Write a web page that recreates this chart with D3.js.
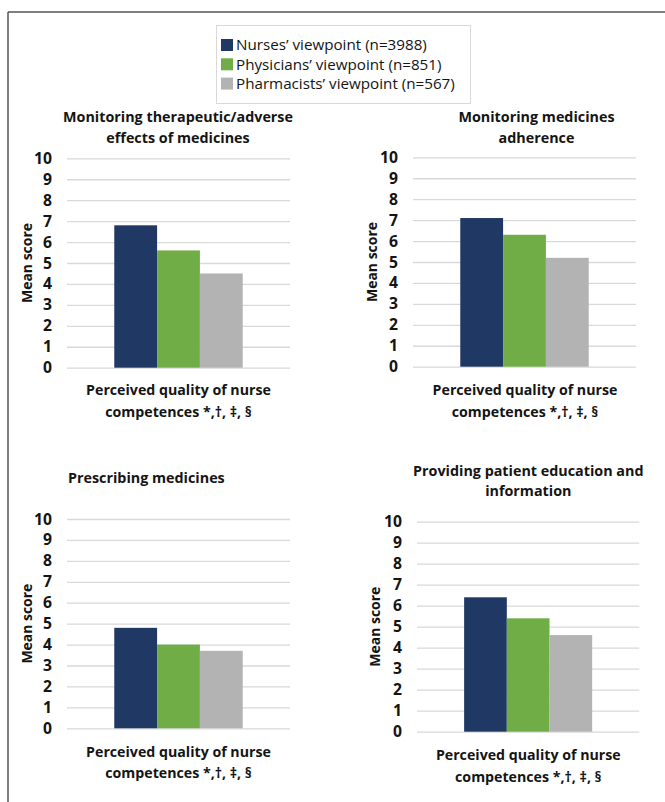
<!DOCTYPE html>
<html>
<head>
<meta charset="utf-8">
<script src="https://cdn.jsdelivr.net/npm/d3@7"></script>
<style>
  body { margin: 0; background: #fff; }
  text { font-family: "Open Sans", Lato, sans-serif; fill: #141414; }
</style>
</head>
<body>
<div id="chart"></div>
<script>
// data
const groups = ["Nurses’ viewpoint (n=3988)", "Physicians’ viewpoint (n=851)", "Pharmacists’ viewpoint (n=567)"]
const titles = [
  ["Monitoring therapeutic/adverse", "effects of medicines"],
  ["Monitoring medicines", "adherence"],
  ["Prescribing medicines"],
  ["Providing patient education and", "information"]
]
const nurses = [6.8, 7.1, 4.8, 6.4]
const physicians = [5.6, 6.3, 4.0, 5.4]
const pharmacists = [4.5, 5.2, 3.7, 4.6]
const yTicks = [0, 1, 2, 3, 4, 5, 6, 7, 8, 9, 10]
const xLabel = ["Perceived quality of nurse", "competences *,†, ‡, §"]
const yLabel = "Mean score"

const colors = ["#203864", "#70ad47", "#b3b3b3"]

// panel layout (pixels)
const layout = [
  { x0: 67,  x1: 290,   yTop: 158.3, yBot: 367.7, tx: 178,   ty: 117,   anchor: "middle", mx: 27,  lx: 178.5, ly: 390 },
  { x0: 413, x1: 636,   yTop: 157.3, yBot: 366.7, tx: 536.5, ty: 117,   anchor: "middle", mx: 372.5, lx: 525, ly: 390 },
  { x0: 67,  x1: 290,   yTop: 519,   yBot: 728.3, tx: 68,    ty: 478.3, anchor: "start",  mx: 27,  lx: 178.5, ly: 751.7 },
  { x0: 417, x1: 639.3, yTop: 521.7, yBot: 731.7, tx: 528.3, ty: 470.7, anchor: "middle", mx: 375, lx: 528.3, ly: 755 }
]

const W = 665, H = 802

const svg = d3.select("#chart")
  .append("svg")
    .attr("width", W)
    .attr("height", H)

// pick a font size so that a sample string gets the width it has in the figure
function fitSize(sample, weight, target) {
  const t = svg.append("text").style("font-size", "100px").style("font-weight", weight).text(sample)
  const w = t.node().getComputedTextLength()
  t.remove()
  return (100 * target / w) + "px"
}
const titleSize = fitSize(titles[0][0], "bold", 230)
const xLabSize = fitSize(xLabel[0], "bold", 185)
const yLabSize = fitSize(yLabel, "bold", 80)
const tickSize = fitSize("10", "bold", 18)
const legendSize = fitSize(groups[0], "normal", 191)

// outer frame (only top and left visible)
svg.append("line").attr("x1", 8).attr("y1", 12).attr("x2", W).attr("y2", 12)
  .attr("stroke", "#555").attr("stroke-width", 1.5)
svg.append("line").attr("x1", 8).attr("y1", 12).attr("x2", 8).attr("y2", H)
  .attr("stroke", "#555").attr("stroke-width", 1.5)

// legend
const legend = svg.append("g")
legend.append("rect")
  .attr("x", 216.5).attr("y", 25.5).attr("width", 254).attr("height", 78)
  .attr("fill", "#fff").attr("stroke", "#d9d9d9")
groups.forEach((g, i) => {
  const cy = 45 + i * 19.3
  legend.append("rect")
    .attr("x", 221).attr("y", cy - 6).attr("width", 12).attr("height", 12)
    .attr("fill", colors[i])
  legend.append("text")
    .attr("x", 236).attr("y", cy)
    .attr("dy", "0.35em")
    .style("font-size", legendSize)
    .text(g)
})

titles.forEach((title, p) => {
  const L = layout[p]
  const values = [nurses[p], physicians[p], pharmacists[p]]

  const y = d3.scaleLinear().domain([0, 10]).range([L.yBot, L.yTop])
  const x0 = d3.scaleBand().domain(["q"]).range([L.x0, L.x1]).paddingInner(0).paddingOuter(0.368)
  const x1 = d3.scaleBand().domain(groups).range([0, x0.bandwidth()]).padding(0)

  const g = svg.append("g")

  // y axis with gridlines
  const axis = g.append("g")
    .attr("transform", `translate(${L.x0},0)`)
    .call(d3.axisLeft(y)
      .tickValues(yTicks)
      .tickSize(-(L.x1 - L.x0))
      .tickPadding(15)
      .tickFormat(d3.format("d")))
  axis.select(".domain").remove()
  axis.selectAll(".tick line").attr("stroke", "#d9d9d9").attr("stroke-width", 1.3)
  axis.selectAll(".tick text")
    .style("font-size", tickSize)
    .style("font-weight", "bold")
    .style("font-family", "'Open Sans', sans-serif")
    .attr("fill", "#141414")

  // bars
  g.append("g")
    .attr("transform", `translate(${x0("q")},0)`)
    .selectAll("rect")
    .data(values)
    .join("rect")
      .attr("x", (d, i) => x1(groups[i]))
      .attr("y", d => y(d))
      .attr("width", x1.bandwidth())
      .attr("height", d => y(0) - y(d))
      .attr("fill", (d, i) => colors[i])

  // title
  g.append("g").selectAll("text")
    .data(title)
    .join("text")
      .attr("x", L.tx)
      .attr("y", (d, i) => L.ty + i * 20.5)
      .attr("dy", "0.35em")
      .attr("text-anchor", L.anchor)
      .style("font-size", titleSize)
      .style("font-weight", "bold")
      .text(d => d)

  // y label
  g.append("text")
    .attr("transform", `translate(${L.mx},${(L.yTop + L.yBot) / 2}) rotate(-90)`)
    .attr("dy", "0.35em")
    .attr("text-anchor", "middle")
    .style("font-size", yLabSize)
    .style("font-weight", "bold")
    .text(yLabel)

  // x label
  g.append("g").selectAll("text")
    .data(xLabel)
    .join("text")
      .attr("x", L.lx)
      .attr("y", (d, i) => L.ly + i * 21.7)
      .attr("dy", "0.35em")
      .attr("text-anchor", "middle")
      .style("font-size", xLabSize)
      .style("font-weight", "bold")
      .text(d => d)
})
</script>
</body>
</html>
